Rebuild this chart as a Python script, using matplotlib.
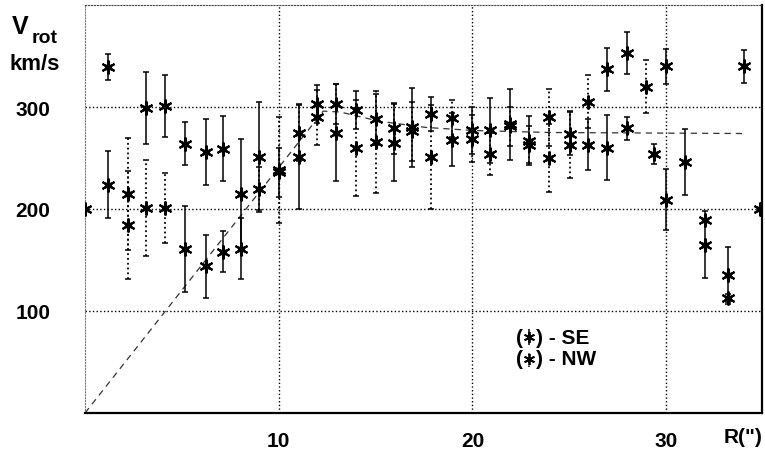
import matplotlib.pyplot as plt
import numpy as np

plt.rcParams['font.family'] = ['Liberation Sans', 'DejaVu Sans']
plt.rcParams['font.weight'] = 'bold'

# SE side of the galaxy (solid error bars)
se_r = [1.2, 1.2, 3.13, 4.13, 5.16, 5.16, 6.23, 6.23, 7.14, 7.14, 8.04, 8.04,
        9.0, 10.03, 11.05, 12.0, 12.96, 14.0, 15.0, 15.97, 16.9, 17.86, 18.96,
        19.96, 20.9, 21.94, 22.94, 25.04, 25.98, 26.93, 26.93, 28.0, 28.0,
        29.4, 30.0, 30.0, 30.98, 32.0, 33.2, 34.0]
se_v = [339, 224, 299, 301, 264, 161, 256, 144, 259, 158, 215, 161,
        251, 236, 251, 303, 275, 297, 288, 265, 280, 293, 268,
        277, 277, 283, 267, 274, 263, 337, 260, 353, 279,
        254, 340, 209, 246, 165, 135, 340]
se_err = [13, 33, 35, 30, 21, 42, 32, 31, 32, 20, 54, 30,
          54, 24, 51, 19, 48, 19, 25, 38, 39, 17, 26,
          23, 32, 35, 24, 21, 25, 21, 32, 21, 11,
          10, 17, 30, 32, 33, 28, 16]

# NW side of the galaxy (dotted error bars)
nw_r = [2.22, 2.22, 3.13, 4.13, 9.0, 10.03, 11.05, 12.0, 12.96, 14.0, 15.0,
        15.97, 16.9, 17.86, 18.96, 19.96, 20.9, 21.94, 22.94, 23.97, 23.97,
        25.04, 25.98, 28.96, 32.0, 33.2]
nw_v = [215, 184, 201, 201, 220, 238, 275, 290, 303, 260, 266,
        279, 276, 251, 289, 269, 254, 281, 263, 290, 250,
        263, 305, 320, 189, 113]
nw_err = [55, 53, 47, 34, 21, 52, 28, 27, 20, 47, 50,
          25, 29, 51, 18, 23, 21, 19, 18, 28, 33,
          33, 26, 26, 0, 4]

# points sitting on the frame at 200 km/s
edge_r = [0.0, 34.85]
edge_v = [200, 200]

# model rotation curve (dashed)
model_r = [0, 12.3, 13.2, 15.2, 17.6, 20.0, 24.0, 34.0]
model_v = [0, 296, 295, 286, 280, 277, 275, 274]

W, H = 765, 452
fig = plt.figure(figsize=(W / 100, H / 100), dpi=100)
ax = fig.add_axes([85 / W, (H - 414) / H, 677 / W, 408 / H])


def stars(r, v, **kw):
    ax.plot(r, v, ls='none', marker=(6, 2, 0), ms=10, mew=1.5, color='k', **kw)
    ax.plot(r, v, ls='none', marker='o', ms=4, color='k', **kw)


ax.plot(model_r, model_v, ls=(0, (5, 4)), color='#333333', lw=0.9, zorder=2)

ax.errorbar(se_r, se_v, yerr=se_err, fmt='none', ecolor='k',
            elinewidth=1.1, capsize=2.5, capthick=1.1, zorder=3)
eb = ax.errorbar(nw_r, nw_v, yerr=nw_err, fmt='none', ecolor='k',
                 elinewidth=1.3, capsize=2.5, capthick=1.1, zorder=3)
eb[2][0].set_linestyle(':')
stars(se_r, se_v, zorder=4)
stars(nw_r, nw_v, zorder=4)
stars(edge_r, edge_v, zorder=4)

ax.set_xlim(0, 34.95)
ax.set_ylim(0, 400)
ax.set_xticks([10, 20, 30])
ax.set_yticks([100, 200, 300])
ax.grid(True, ls=':', color='k', lw=1.0)
ax.tick_params(length=0, labelsize=15)
ax.tick_params(axis='y', pad=25)
ax.tick_params(axis='x', pad=13)
for lab in ax.get_xticklabels() + ax.get_yticklabels():
    lab.set_fontweight('bold')

ax.spines['left'].set_linestyle(':')
ax.spines['left'].set_color('#777777')
ax.spines['top'].set_linestyle(':')
ax.spines['top'].set_color('#444444')
ax.spines['bottom'].set_linewidth(1.6)
ax.spines['right'].set_linewidth(1.6)

# axis titles
fig.text(12 / W, 1 - 34 / H, 'V', fontsize=18, fontweight='bold')
fig.text(32 / W, 1 - 43 / H, 'rot', fontsize=14, fontweight='bold')
fig.text(35 / W, 1 - 64 / H, 'km/s', fontsize=16, fontweight='bold',
         ha='center', va='center')
fig.text(743 / W, 1 - 438 / H, 'R(")', fontsize=15, fontweight='bold',
         ha='center', va='center')

# legend
for py, name, dotted in [(338, 'SE', False), (360, 'NW', True)]:
    fig.text(516 / W, 1 - py / H, '(', fontsize=15, va='center', fontweight='bold')
    fig.text(536 / W, 1 - py / H, ') - ' + name, fontsize=15, va='center',
             fontweight='bold')
    lx = (529 - 85) / 677 * 34.95
    ly = (414 - py) / 1.02
    e = ax.errorbar([lx], [ly], yerr=[8], fmt='none', ecolor='k', elinewidth=1.1,
                    capsize=0, clip_on=False)
    if dotted:
        e[2][0].set_linestyle(':')
    ax.plot([lx], [ly], ls='none', marker=(6, 2, 0), ms=8, mew=1.3, color='k',
            clip_on=False)

fig.savefig('out.png', dpi=100)
